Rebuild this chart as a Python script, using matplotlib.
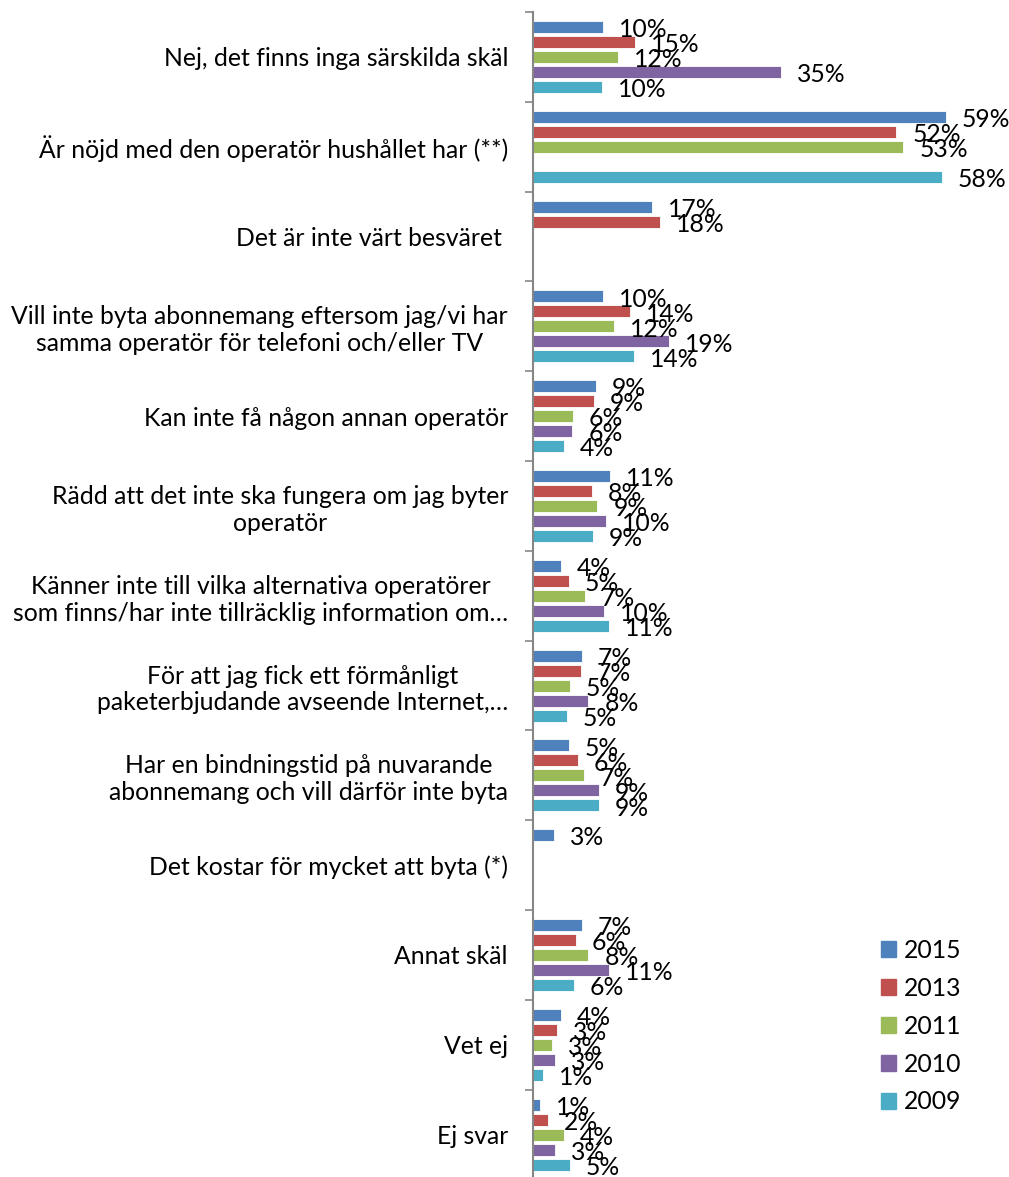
import matplotlib

matplotlib.use("Agg")
import matplotlib.pyplot as plt
import numpy as np

CATEGORIES = [
    "Nej, det finns inga särskilda skäl",
    "Är nöjd med den operatör hushållet har (**)",
    "Det är inte värt besväret ",
    "Vill inte byta abonnemang eftersom jag/vi har\nsamma operatör för telefoni och/eller TV",
    "Kan inte få någon annan operatör",
    "Rädd att det inte ska fungera om jag byter\noperatör",
    "Känner inte till vilka alternativa operatörer\nsom finns/har inte tillräcklig information om…",
    "För att jag fick ett förmånligt\npaketerbjudande avseende Internet,…",
    "Har en bindningstid på nuvarande\nabonnemang och vill därför inte byta",
    "Det kostar för mycket att byta (*)",
    "Annat skäl",
    "Vet ej",
    "Ej svar",
]

YEARS = ["2015", "2013", "2011", "2010", "2009"]

# bar lengths in percent (None = no bar)
V2015 = [10.0, 59.0, 17.0, 10.0, 9.0, 11.0, 4.0, 7.0, 5.1, 3.0, 7.0, 4.0, 1.0]
V2013 = [14.6, 51.9, 18.1, 13.9, 8.7, 8.4, 5.1, 6.8, 6.4, None, 6.1, 3.4, 2.1]
V2011 = [12.1, 52.9, None, 11.6, 5.7, 9.2, 7.4, 5.3, 7.3, None, 7.9, 2.7, 4.4]
V2010 = [35.4, None, None, 19.4, 5.6, 10.4, 10.1, 7.9, 9.4, None, 10.8, 3.2, 3.2]
V2009 = [9.9, 58.4, None, 14.4, 4.4, 8.6, 10.8, 4.8, 9.4, None, 5.8, 1.4, 5.3]

COLORS = ["#4F81BD", "#C0504D", "#9BBB59", "#8064A2", "#4BACC6"]

W, H = 1009, 1177
FONT = "Lato"
FS = 17.8

plt.rcParams["font.family"] = [FONT, "DejaVu Sans"]

fig = plt.figure(figsize=(W / 100, H / 100), dpi=100)
# axis line at x=533 px, categories start at y=12 px, 89.8 px each
ax_left = 533 / W
ax_top = 12
ax_h = 13 * 89.8
ax = fig.add_axes([ax_left, 1 - (ax_top + ax_h) / H, 1 - ax_left, ax_h / H])

px_per_pct = 7.0
ax.set_xlim(0, (W - 533) / px_per_pct)
ax.set_ylim(len(CATEGORIES), 0)

series = [V2015, V2013, V2011, V2010, V2009]
slot = 15 / 89.8
bar_h = 12 / 89.8
centers = np.arange(len(CATEGORIES)) + 0.5
handles = []
for k, (vals, color, year) in enumerate(zip(series, COLORS, YEARS)):
    ys = centers + (k - 2) * slot
    for y, v in zip(ys, vals):
        if v is None:
            continue
        ax.barh(y, v, height=bar_h, color=color, edgecolor="white", linewidth=0.6)
        ax.annotate(
            f"{round(v):.0f}%",
            xy=(v, y),
            xytext=(11.5, -2),
            textcoords="offset points",
            ha="left",
            va="center",
            fontsize=FS,
            color="black",
        )
    handles.append(plt.Rectangle((0, 0), 1, 1, color=color, label=year))

ax.set_yticks(centers)
ax.set_yticklabels(CATEGORIES, fontsize=FS, multialignment="center")
ax.tick_params(axis="y", which="major", length=0, pad=18)
ax.set_yticks(np.arange(len(CATEGORIES) + 1), minor=True)
ax.tick_params(axis="y", which="minor", length=6, width=1.2, color="#868686")
ax.set_xticks([])

for side in ("top", "right", "bottom"):
    ax.spines[side].set_visible(False)
ax.spines["left"].set_color("#868686")
ax.spines["left"].set_linewidth(1.5)

fig.legend(
    handles=handles,
    loc="upper left",
    bbox_to_anchor=(881 / W, 1 - 939 / H),
    frameon=False,
    fontsize=FS,
    handlelength=0.62,
    handleheight=0.62,
    handletextpad=0.3,
    labelspacing=0.6,
    borderpad=0,
    borderaxespad=0,
)

fig.savefig("out.png", dpi=100)
